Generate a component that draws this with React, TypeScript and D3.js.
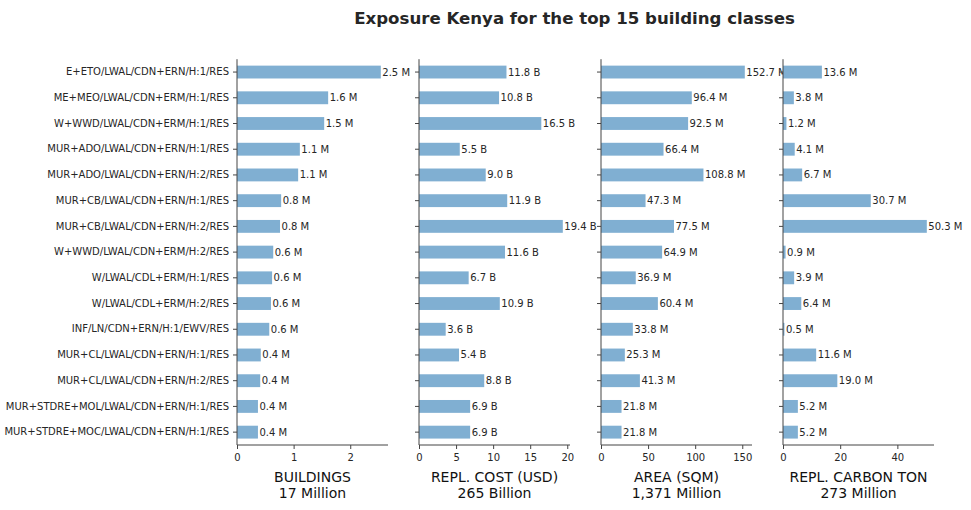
import { useEffect, useRef } from 'react';
import * as d3 from 'd3';

// Building classes, top to bottom
const classes = [
  'E+ETO/LWAL/CDN+ERN/H:1/RES',
  'ME+MEO/LWAL/CDN+ERM/H:1/RES',
  'W+WWD/LWAL/CDN+ERM/H:1/RES',
  'MUR+ADO/LWAL/CDN+ERN/H:1/RES',
  'MUR+ADO/LWAL/CDN+ERN/H:2/RES',
  'MUR+CB/LWAL/CDN+ERN/H:1/RES',
  'MUR+CB/LWAL/CDN+ERN/H:2/RES',
  'W+WWD/LWAL/CDN+ERM/H:2/RES',
  'W/LWAL/CDL+ERM/H:1/RES',
  'W/LWAL/CDL+ERM/H:2/RES',
  'INF/LN/CDN+ERN/H:1/EWV/RES',
  'MUR+CL/LWAL/CDN+ERN/H:1/RES',
  'MUR+CL/LWAL/CDN+ERN/H:2/RES',
  'MUR+STDRE+MOL/LWAL/CDN+ERN/H:1/RES',
  'MUR+STDRE+MOC/LWAL/CDN+ERN/H:1/RES',
];

// Values (millions / billions)
const buildings = [2.54, 1.61, 1.54, 1.11, 1.08, 0.78, 0.76, 0.64, 0.62, 0.6, 0.57, 0.42, 0.41, 0.37, 0.37];
const replCost = [11.8, 10.8, 16.5, 5.5, 9.0, 11.9, 19.4, 11.6, 6.7, 10.9, 3.6, 5.4, 8.8, 6.9, 6.9];
const area = [152.7, 96.4, 92.5, 66.4, 108.8, 47.3, 77.5, 64.9, 36.9, 60.4, 33.8, 25.3, 41.3, 21.8, 21.8];
const carbon = [13.6, 3.8, 1.2, 4.1, 6.7, 30.7, 50.3, 0.9, 3.9, 6.4, 0.5, 11.6, 19.0, 5.2, 5.2];

// Tick labels per panel
const buildingTicks = [0, 1, 2];
const costTicks = [0, 5, 10, 15, 20];
const areaTicks = [0, 50, 100, 150];
const carbonTicks = [0, 20, 40];

const panelTitles = ['BUILDINGS', 'REPL. COST (USD)', 'AREA (SQM)', 'REPL. CARBON TON'];
const panelTotals = ['17 Million', '265 Billion', '1,371 Million', '273 Million'];
const units = ['M', 'B', 'M', 'M'];

const title = 'Exposure Kenya for the top 15 building classes';

export default function App() {
  const svgRef = useRef<SVGSVGElement>(null);

  useEffect(() => {
    if (!svgRef.current) return;

    const width = 971;
    const height = 510;
    const top = 59.2;
    const bottom = 445;
    const panelWidth = 151;
    const panelLefts = [237, 419, 601, 783];
    const font = 'DejaVu Sans, sans-serif';
    const textColor = '#262626';
    const axisColor = '#444';
    const barColor = '#80afd2';

    const svg = d3.select(svgRef.current);
    svg.selectAll('*').remove();
    svg.attr('width', width).attr('height', height);

    // Title
    svg
      .append('text')
      .attr('x', 574.5)
      .attr('y', 24)
      .attr('text-anchor', 'middle')
      .attr('font-family', font)
      .attr('font-weight', 'bold')
      .attr('font-size', '16.6px')
      .attr('fill', textColor)
      .text(title);

    const yScale = d3
      .scaleBand()
      .domain(classes)
      .range([top, bottom])
      .paddingInner(0.5)
      .paddingOuter(0.25);

    const series = [buildings, replCost, area, carbon];
    const ticks = [buildingTicks, costTicks, areaTicks, carbonTicks];

    series.forEach((values, i) => {
      const left = panelLefts[i];
      const max = d3.max(values) || 0;
      const xScale = d3
        .scaleLinear()
        .domain([0, max * 1.05])
        .range([left, left + panelWidth]);

      const g = svg.append('g');

      // Bars
      g.selectAll('rect')
        .data(values)
        .enter()
        .append('rect')
        .attr('x', left)
        .attr('y', (_, j) => yScale(classes[j]) || 0)
        .attr('width', (d) => xScale(d) - left)
        .attr('height', yScale.bandwidth())
        .attr('fill', barColor);

      // Value labels
      g.selectAll('.value-label')
        .data(values)
        .enter()
        .append('text')
        .attr('class', 'value-label')
        .attr('x', (d) => xScale(d) + 1.5)
        .attr('y', (_, j) => (yScale(classes[j]) || 0) + yScale.bandwidth() / 2)
        .attr('dy', '0.35em')
        .attr('font-family', font)
        .attr('font-size', '10px')
        .attr('fill', textColor)
        .text((d) => `${d.toFixed(1)} ${units[i]}`);

      // Y axis
      const yAxis = g
        .append('g')
        .attr('transform', `translate(${left},0)`)
        .call(
          d3
            .axisLeft(yScale)
            .tickSize(4)
            .tickPadding(4)
            .tickFormat((d) => (i === 0 ? (d as string) : ''))
        );
      yAxis.select('.domain').attr('d', `M0,${top}V${bottom}`).attr('stroke', axisColor);
      yAxis.selectAll('line').attr('stroke', axisColor);
      yAxis
        .selectAll('text')
        .attr('font-family', font)
        .attr('font-size', '10px')
        .attr('fill', textColor);

      // X axis
      const xAxis = g
        .append('g')
        .attr('transform', `translate(0,${bottom})`)
        .call(
          d3
            .axisBottom(xScale)
            .tickValues(ticks[i])
            .tickFormat((d) => String(d))
            .tickSize(4)
            .tickPadding(5)
        );
      xAxis.select('.domain').attr('d', `M${left},0H${left + panelWidth}`).attr('stroke', axisColor);
      xAxis.selectAll('line').attr('stroke', axisColor);
      xAxis
        .selectAll('text')
        .attr('font-family', font)
        .attr('font-size', '10px')
        .attr('fill', textColor);

      // Axis label
      const cx = left + panelWidth / 2;
      g.append('text')
        .attr('x', cx)
        .attr('y', 482)
        .attr('text-anchor', 'middle')
        .attr('font-family', font)
        .attr('font-size', '14px')
        .attr('fill', '#111')
        .text(panelTitles[i]);
      g.append('text')
        .attr('x', cx)
        .attr('y', 498)
        .attr('text-anchor', 'middle')
        .attr('font-family', font)
        .attr('font-size', '14px')
        .attr('fill', '#111')
        .text(panelTotals[i]);
    });
  }, []);

  return (
    <svg
      ref={svgRef}
      style={{ position: 'absolute', left: 0, top: 0, background: '#fff' }}
    />
  );
}
